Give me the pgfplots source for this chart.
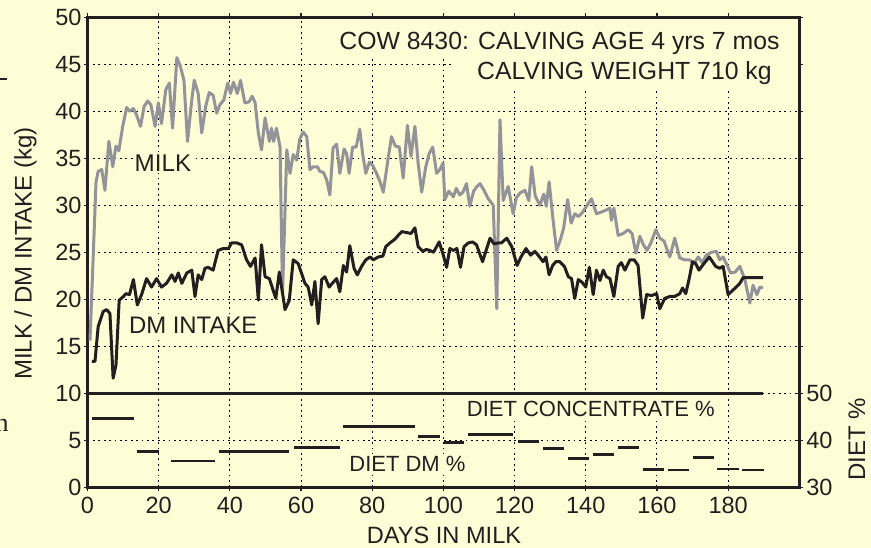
\documentclass[border=0pt]{standalone}
\usepackage{pgfplots}
\pgfplotsset{compat=1.18}
\usepackage{pgfplotstable}
\usepackage{fontspec}
\setmainfont{Liberation Sans}
\definecolor{bg}{RGB}{255,253,214}
\definecolor{milkc}{RGB}{146,148,153}
\definecolor{dmc}{RGB}{35,31,32}

\pgfplotstableread{
day kg
0.7 15.6
2.4 32.5
3.0 33.6
4.0 33.8
4.9 31.6
6.0 36.8
7.1 34.1
8.0 36.3
8.8 35.8
9.9 38.4
11.0 40.4
11.9 40.0
12.9 40.3
13.8 39.6
14.9 38.4
15.9 40.5
16.9 41.1
17.8 40.7
19.0 38.4
19.9 40.9
20.8 38.7
22.0 42.3
23.0 43.0
23.9 38.2
25.1 45.7
26.0 44.9
27.1 43.3
28.1 36.8
29.3 41.2
30.0 43.3
31.1 41.9
32.1 37.7
33.2 40.5
34.2 42.0
35.3 41.7
36.3 39.8
37.2 40.7
38.3 41.2
39.4 43.0
40.2 41.9
41.0 43.1
42.1 41.9
43.0 43.3
44.2 40.9
45.4 41.0
46.3 41.6
47.1 40.9
48.0 37.7
48.9 35.9
49.9 39.3
51.1 36.8
51.7 38.2
52.3 36.8
53.1 38.2
54.1 36.2
54.8 20.6
56.0 35.9
56.9 33.4
57.8 35.4
58.8 34.8
59.6 37.0
60.6 37.8
61.6 37.3
62.5 33.8
63.4 34.1
64.6 34.1
65.3 33.6
66.3 33.5
67.2 32.7
68.1 31.1
69.0 36.1
70.0 36.5
70.9 33.4
72.1 36.0
72.8 35.5
73.5 33.4
74.5 36.2
75.5 36.2
76.5 38.1
77.3 35.5
78.2 33.4
79.2 34.6
80.2 34.2
81.2 33.4
82.2 32.5
83.1 31.4
84.3 34.5
85.4 37.3
86.5 36.3
87.6 36.2
88.7 32.9
89.9 38.5
90.9 35.2
92.0 38.4
92.9 34.5
93.9 31.4
95.0 34.0
96.0 35.5
97.0 36.2
98.1 33.4
99.0 33.8
99.9 34.5
100.4 30.6
101.5 31.5
102.8 30.9
103.6 31.8
104.6 31.1
105.5 31.4
106.5 32.3
107.4 29.9
108.5 31.5
109.4 32.0
110.3 32.3
111.4 31.6
112.6 30.7
114.0 30.0
115.0 19.0
115.9 39.1
116.8 30.5
118.2 32.0
119.6 29.1
120.5 30.8
121.5 31.3
122.9 31.6
124.0 30.5
124.8 34.1
125.8 31.0
127.1 30.0
128.2 31.2
128.9 29.9
129.7 32.5
130.8 28.5
131.8 25.2
133.0 26.5
133.8 27.6
134.9 30.6
135.9 28.1
136.9 29.1
137.9 28.8
139.0 29.2
140.2 29.9
141.6 30.7
143.0 29.1
144.5 29.3
145.8 29.5
146.8 29.7
147.2 28.4
147.9 29.7
149.1 26.8
150.5 27.0
151.9 27.4
153.0 27.0
154.1 24.9
155.2 26.7
156.2 25.8
157.2 25.2
158.3 26.0
159.7 27.4
160.8 26.5
162.0 26.2
163.6 24.5
165.0 26.5
166.4 24.4
167.8 24.2
169.2 24.2
170.4 23.8
171.6 24.5
172.7 23.9
173.9 24.7
175.3 25.0
176.7 25.1
177.6 24.2
178.6 24.5
179.6 23.7
180.7 22.8
182.0 22.9
183.3 23.5
184.7 22.1
186.1 19.6
187.0 21.5
188.1 20.5
188.9 21.3
189.8 21.2
}\milk

\pgfplotstableread{
day kg
1.2 13.4
2.1 13.4
3.0 17.1
4.4 18.7
5.4 18.9
6.3 18.5
7.2 11.6
8.0 13.0
8.9 19.9
10.1 20.3
10.8 20.6
11.8 20.5
12.9 22.1
14.0 19.4
15.2 20.5
16.6 22.2
18.0 21.3
19.4 22.2
20.8 21.3
22.2 21.7
23.7 22.6
24.6 21.9
25.5 22.8
26.5 21.7
27.9 22.8
29.3 23.1
30.2 20.3
31.1 22.6
32.1 22.1
33.0 23.3
33.9 23.4
35.3 23.1
36.7 25.2
38.1 25.4
39.6 25.4
40.5 26.0
41.9 26.0
43.3 25.8
44.7 24.2
45.8 23.5
47.1 24.4
48.0 19.9
48.9 25.8
49.9 22.4
51.1 22.2
52.9 20.1
53.9 22.9
55.5 18.9
56.7 19.9
57.8 24.2
59.2 23.8
61.1 21.7
62.0 21.3
63.0 19.4
63.9 21.9
64.8 17.4
65.8 22.1
66.7 22.4
67.9 21.3
69.0 21.8
70.0 22.2
70.9 20.8
71.9 23.6
72.8 22.9
73.7 25.7
74.9 23.3
75.8 22.6
77.0 23.5
78.2 24.2
79.4 24.5
80.3 24.2
81.7 24.5
83.0 24.6
83.8 25.6
85.0 26.0
86.4 26.4
87.3 26.8
88.3 27.2
89.7 27.1
90.9 27.0
92.0 27.6
92.9 25.6
94.2 25.1
95.2 25.3
96.2 25.2
97.2 25.0
98.1 25.6
98.8 26.1
99.9 24.8
100.9 23.4
101.8 25.4
102.8 25.2
103.8 25.4
104.8 23.4
105.8 25.6
107.0 26.0
108.2 26.1
109.3 25.8
111.0 24.0
112.0 25.2
113.1 26.5
114.2 25.9
115.5 26.0
116.3 26.0
117.8 26.5
119.2 25.6
120.7 23.6
121.8 24.5
123.2 25.4
124.5 24.7
125.7 25.1
126.6 24.7
128.0 24.0
128.8 24.5
129.7 22.6
130.7 23.6
131.6 24.0
132.7 24.0
134.0 23.5
135.1 22.4
136.0 22.2
136.9 20.1
137.9 22.1
139.0 21.8
140.0 21.3
141.0 23.4
142.1 20.5
143.0 23.1
144.0 22.0
144.9 23.1
145.8 22.4
146.8 22.2
147.9 20.3
149.1 23.5
150.0 23.9
151.0 23.1
152.4 24.2
153.6 24.2
154.7 23.6
156.0 18.0
157.1 20.5
158.5 20.4
159.9 20.6
160.8 19.0
162.2 20.1
163.6 20.3
165.0 20.3
166.4 20.6
167.2 21.2
168.1 20.6
169.0 22.1
170.0 24.0
170.9 23.8
171.8 23.1
173.2 23.8
174.7 24.5
175.6 24.0
176.5 23.5
177.6 23.3
178.6 23.5
180.0 20.5
181.7 21.1
183.3 21.7
184.2 22.3
189.8 22.3
}\dmi

\begin{document}
\begin{tikzpicture}
\fill[bg] (0pt,0pt) rectangle (871pt,548pt);
\begin{axis}[
  at={(87.5pt,60.7pt)}, anchor=south west,
  scale only axis, width=711.8pt, height=470pt,
  xmin=0, xmax=200, ymin=0, ymax=50,
  xtick={0,20,...,180}, ytick={0,5,...,50},
  grid=major,
  grid style={black, line width=0.9pt, dash pattern=on 1.8pt off 3.6pt},
  axis line style={line width=2.5pt, dmc},
  tick align=outside, major tick length=4pt,
  tick style={line width=1.2pt, dmc},
  ticklabel style={font=\fontsize{23.5}{26}\selectfont, text=dmc},
  xticklabel style={yshift=-2pt},
  yticklabel style={xshift=1.5pt},
  /pgf/number format/assume math mode=true,
  clip=false,
]
\fill[bg] (axis cs:68.1,45.67) rectangle (axis cs:199.3,49.75);
\fill[bg] (axis cs:103.2,42.36) rectangle (axis cs:199.3,45.7);
\node[anchor=base east, font=\fontsize{24.8}{28}\selectfont, text=dmc, inner sep=0pt] at (axis cs:194.5,46.6) {COW 8430: CALVING AGE 4 yrs 7 mos};
\node[anchor=base east, font=\fontsize{24.8}{28}\selectfont, text=dmc, inner sep=0pt] at (axis cs:192.3,43.34) {CALVING WEIGHT 710 kg};
\addplot[milkc, line width=3pt, line join=round] table[x=day, y=kg] {\milk};
\addplot[dmc, line width=3pt, line join=round] table[x=day, y=kg] {\dmi};
\node[fill=bg, inner sep=2pt, font=\fontsize{24.2}{28}\selectfont, text=dmc] at (axis cs:21.2,34.5) {MILK};
\node[fill=bg, inner sep=2pt, font=\fontsize{23.9}{28}\selectfont, text=dmc] at (axis cs:29.7,17.2) {DM INTAKE};
\node[fill=bg, inner sep=2pt, font=\fontsize{22}{26}\selectfont, text=dmc] at (axis cs:141.4,8.33) {DIET CONCENTRATE \%};
\node[fill=bg, inner sep=2pt, font=\fontsize{22}{26}\selectfont, text=dmc] at (axis cs:89.9,2.48) {DIET DM \%};
\end{axis}
\begin{axis}[
  at={(87.5pt,60.7pt)}, anchor=south west,
  scale only axis, width=711.8pt, height=470pt,
  xmin=0, xmax=200, ymin=30, ymax=130,
  axis x line=none, axis y line*=right,
  ytick={30,40,50},
  axis line style={line width=2.5pt, dmc, -},
  tick align=center, major tick length=7pt,
  tick style={line width=1.2pt, dmc},
  ticklabel style={font=\fontsize{23.5}{26}\selectfont, text=dmc},
  /pgf/number format/assume math mode=true,
  unbounded coords=jump,
]
% diet concentrate %
\addplot[dmc, line width=2.5pt] coordinates {(0.5,50) (189.7,50)};
% diet DM %
\addplot[dmc, line width=2.8pt] coordinates {
(1.2,44.7) (13.1,44.7) (13.5,nan)
(14,37.6) (20,37.6) (21,nan)
(23.6,35.6) (35.8,35.6) (36,nan)
(36.9,37.6) (56.7,37.6) (57,nan)
(58,38.4) (71,38.4) (71.5,nan)
(71.9,43.0) (92,43.0) (92.4,nan)
(92.8,40.8) (99,40.8) (99.5,nan)
(100.1,39.5) (105.8,39.5) (106.3,nan)
(106.9,41.3) (119.6,41.3) (120.2,nan)
(121,39.7) (126.9,39.7) (127.4,nan)
(128,38.3) (133.9,38.3) (134.4,nan)
(135,36.2) (141,36.2) (141.5,nan)
(142,36.9) (148,36.9) (148.5,nan)
(149,38.4) (155,38.4) (155.5,nan)
(156,33.8) (162,33.8) (162.5,nan)
(163,33.7) (169,33.7) (169.5,nan)
(170,36.4) (176,36.4) (176.5,nan)
(177,33.9) (183,33.9) (183.5,nan)
(184,33.7) (190,33.7)
};
\end{axis}
% axis titles
\node[rotate=90, anchor=base, inner sep=0pt, font=\fontsize{24}{28}\selectfont, text=dmc] at (31.7pt,294.5pt) {MILK / DM INTAKE (kg)};
\node[rotate=90, anchor=base, inner sep=0pt, font=\fontsize{24}{28}\selectfont, text=dmc] at (865pt,109pt) {DIET \%};
\node[anchor=base, inner sep=0pt, font=\fontsize{23.6}{28}\selectfont, text=dmc] at (444pt,4pt) {DAYS IN MILK};
% stray page marks at the left edge
\draw[dmc, line width=1.5pt] (0pt,469pt) -- (7pt,469pt);
\node[font=\fontsize{26}{28}\rmfamily, text=dmc, inner sep=0pt, anchor=base] at (2pt,116pt) {\fontspec{Liberation Serif}n};
\pgfresetboundingbox
\path (0pt,0pt) rectangle (871pt,548pt);
\end{tikzpicture}
\end{document}
